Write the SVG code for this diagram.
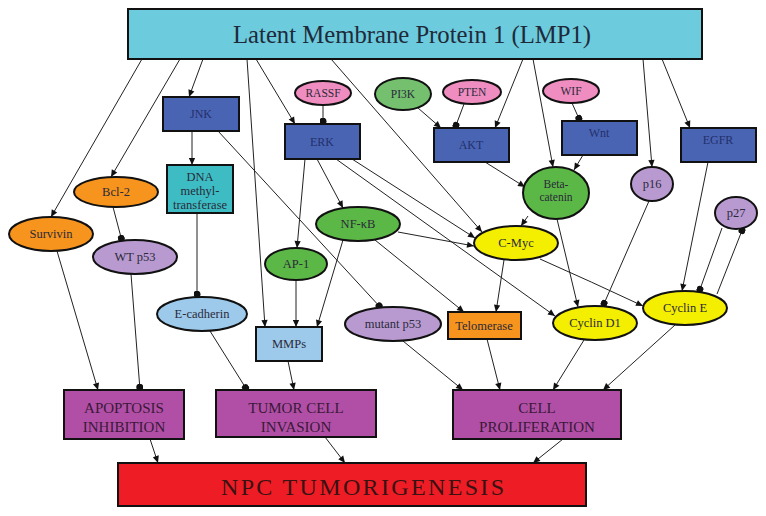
<svg xmlns="http://www.w3.org/2000/svg" width="766" height="516" viewBox="0 0 766 516">
<style>
text{font-family:"Liberation Serif","Times New Roman",serif;fill:#2a2a3a;text-anchor:middle}
.n{stroke:#111;stroke-width:2}
.s{font-size:12.5px}
.xs{font-size:11.5px}
.big{font-size:15px;fill:#3a1838}
.lmp{fill:#6CCBDD}.blue{fill:#4A64B4}.teal{fill:#3DBDC3}.pink{fill:#F08DC0}
.lg{fill:#74C06F}.g{fill:#5CB846}.or{fill:#F7941D}.pu{fill:#B99AD0}
.lb{fill:#9DC9EA}.ye{fill:#F4EE00}.mg{fill:#B14FA6}.red{fill:#EE1C25}
.bt{fill:#22306a;font-size:12px}
#edges path{fill:none;stroke:#222;stroke-width:1}
.a{marker-end:url(#arr)}
.d{marker-end:url(#dot)}
</style>
<defs>
<marker id="arr" viewBox="0 0 10 10" refX="10" refY="5" markerWidth="8" markerHeight="7" orient="auto" markerUnits="userSpaceOnUse"><path d="M0,0.5 L10,5 L0,9.5 z" fill="#111"/></marker>
<marker id="dot" viewBox="0 0 10 10" refX="9" refY="5" markerWidth="7" markerHeight="7" orient="auto" markerUnits="userSpaceOnUse"><circle cx="5" cy="5" r="5" fill="#111"/></marker>
</defs>
<rect width="766" height="516" fill="#fff"/>
<g id="edges">
<path class="a" d="M142,59 L51,217"/>
<path class="a" d="M180,59 L111,177"/>
<path class="a" d="M203,59 L189,97"/>
<path class="a" d="M247,59 L265,327"/>
<path class="a" d="M256,59 L295,124"/>
<path class="a" d="M331,59 L482,232"/>
<path class="a" d="M523,59 L495,128"/>
<path class="a" d="M533,59 L553,167"/>
<path class="a" d="M643,59 L652,167"/>
<path class="a" d="M662,59 L690,128"/>
<path class="a" d="M418,108 L441,128"/>
<path class="a" d="M485,162 L525,187"/>
<path class="a" d="M583,155 L574,170"/>
<path class="a" d="M708,162 L682,291"/>
<path class="a" d="M528,216 L521,226"/>
<path class="a" d="M557,219 L578,307"/>
<path class="a" d="M504,260 L496,312"/>
<path class="a" d="M540,259 Q592,282 643,306"/>
<path class="a" d="M305,159 L297,248"/>
<path class="a" d="M317,159 L343,208"/>
<path class="a" d="M336,159 L555,316"/>
<path class="a" d="M352,159 L475,238"/>
<path class="a" d="M398,232 L474,246"/>
<path class="a" d="M375,240 L464,312"/>
<path class="a" d="M343,240 L317,327"/>
<path class="a" d="M296,280 L296,327"/>
<path class="a" d="M192,131 L192,165"/>
<path class="a" d="M57,251 L98,390"/>
<path class="a" d="M288,361 L294,390"/>
<path class="a" d="M403,341 L463,390"/>
<path class="a" d="M487,339 L500,390"/>
<path class="a" d="M584,340 L553,390"/>
<path class="a" d="M675,325 L603,390"/>
<path class="a" d="M150,439 L158,463"/>
<path class="a" d="M325,437 L345,463"/>
<path class="a" d="M563,439 L533,463"/>
<path class="d" d="M323,105 L323,124"/>
<path class="d" d="M464,104 L455,128"/>
<path class="d" d="M572,103 L580,121"/>
<path class="d" d="M649,201 L603,306"/>
<path class="d" d="M722,228 L699,292"/>
<path class="d" d="M717,294 L743,228"/>
<path class="d" d="M218,131 L381,308"/>
<path class="d" d="M197,213 L197,297"/>
<path class="d" d="M113,207 L122,241"/>
<path class="d" d="M131,274 L140,390"/>
<path class="d" d="M210,331 L247,390"/>
</g>
<g id="lmp1"><rect class="n lmp" x="128" y="9" width="574" height="50"/><text x="412" y="43" style="font-size:25px;fill:#1e2a3a" textLength="358" lengthAdjust="spacingAndGlyphs">Latent Membrane Protein 1 (LMP1)</text></g>
<g id="jnk"><rect class="n blue" x="163" y="97" width="76" height="34"/><text class="bt" x="201" y="118">JNK</text></g>
<g id="erk"><rect class="n blue" x="285" y="124" width="75" height="35"/><text class="bt" x="322" y="146">ERK</text></g>
<g id="akt"><rect class="n blue" x="434" y="128" width="75" height="34"/><text class="bt" x="471" y="149">AKT</text></g>
<g id="wnt"><rect class="n blue" x="562" y="121" width="75" height="34"/><text class="bt" x="599" y="137">Wnt</text></g>
<g id="egfr"><rect class="n blue" x="681" y="128" width="75" height="34"/><text class="bt" x="718" y="144">EGFR</text></g>
<g id="rassf"><ellipse class="n pink" cx="323" cy="93" rx="28" ry="12"/><text class="xs" x="323" y="97">RASSF</text></g>
<g id="pi3k"><ellipse class="n lg" cx="403" cy="94" rx="28" ry="16"/><text class="xs" x="403" y="98">PI3K</text></g>
<g id="pten"><ellipse class="n pink" cx="472" cy="92" rx="29" ry="12"/><text class="xs" x="472" y="96">PTEN</text></g>
<g id="wif"><ellipse class="n pink" cx="571" cy="91" rx="28" ry="12"/><text class="xs" x="571" y="95">WIF</text></g>
<g id="dnmt"><rect class="n teal" x="167" y="165" width="66" height="48"/><text class="s" x="200" y="181">DNA</text><text class="s" x="200" y="195">methyl-</text><text class="s" x="200" y="209">transferase</text></g>
<g id="bcl2"><ellipse class="n or" cx="116" cy="192" rx="42" ry="15"/><text class="s" x="116" y="196">Bcl-2</text></g>
<g id="survivin"><ellipse class="n or" cx="51" cy="234" rx="42" ry="17"/><text class="s" x="51" y="238">Survivin</text></g>
<g id="wtp53"><ellipse class="n pu" cx="135" cy="257" rx="42" ry="17"/><text class="s" x="135" y="261">WT p53</text></g>
<g id="ecad"><ellipse class="n lb" cx="202" cy="314" rx="45" ry="17"/><text class="s" x="202" y="318">E-cadherin</text></g>
<g id="nfkb"><ellipse class="n g" cx="358" cy="224" rx="42" ry="17"/><text class="s" x="358" y="228">NF-κB</text></g>
<g id="ap1"><ellipse class="n g" cx="296" cy="264" rx="31" ry="16"/><text class="s" x="296" y="268">AP-1</text></g>
<g id="mmps"><rect class="n lb" x="256" y="327" width="66" height="34"/><text class="s" x="289" y="348">MMPs</text></g>
<g id="mutp53"><ellipse class="n pu" cx="393" cy="324" rx="48" ry="17"/><text class="s" x="393" y="328">mutant p53</text></g>
<g id="beta"><ellipse class="n g" cx="556" cy="193" rx="33" ry="26"/><text class="xs" x="556" y="188">Beta-</text><text class="xs" x="556" y="201">catenin</text></g>
<g id="p16"><ellipse class="n pu" cx="652" cy="184" rx="21" ry="17"/><text class="s" x="652" y="188">p16</text></g>
<g id="p27"><ellipse class="n pu" cx="736" cy="213" rx="21" ry="16"/><text class="s" x="736" y="217">p27</text></g>
<g id="cmyc"><ellipse class="n ye" cx="516" cy="243" rx="42" ry="17"/><text class="s" x="516" y="247">C-Myc</text></g>
<g id="telomerase"><rect class="n or" x="448" y="312" width="73" height="27"/><text class="s" x="484" y="330">Telomerase</text></g>
<g id="cycd1"><ellipse class="n ye" cx="595" cy="323" rx="42" ry="17"/><text class="s" x="595" y="327">Cyclin D1</text></g>
<g id="cyce"><ellipse class="n ye" cx="685" cy="308" rx="42" ry="17"/><text class="s" x="685" y="312">Cyclin E</text></g>
<g id="apop"><rect class="n mg" x="64" y="390" width="120" height="49"/><text class="big" x="124" y="413">APOPTOSIS</text><text class="big" x="124" y="432">INHIBITION</text></g>
<g id="invasion"><rect class="n mg" x="216" y="390" width="160" height="47"/><text class="big" x="296" y="413">TUMOR CELL</text><text class="big" x="296" y="432">INVASION</text></g>
<g id="prolif"><rect class="n mg" x="453" y="390" width="168" height="49"/><text class="big" x="537" y="413">CELL</text><text class="big" x="537" y="432">PROLIFERATION</text></g>
<g id="npc"><rect class="n red" x="118" y="463" width="468" height="43"/><text x="364" y="495" style="font-size:24px;fill:#3a1212;letter-spacing:3px" textLength="286">NPC TUMORIGENESIS</text></g>
</svg>
